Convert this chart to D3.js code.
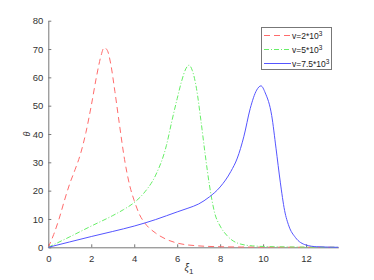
<!DOCTYPE html>
<html>
<head>
<meta charset="utf-8">
<script src="https://cdn.jsdelivr.net/npm/d3@7"></script>
<style>
  body { margin: 0; background: #fff; }
  svg { font-family: "Liberation Sans", Arial, sans-serif; }
</style>
</head>
<body>
<svg id="chart" width="374" height="280"></svg>
<script>
// values (xi_1 vs theta)
const redX   = [0, 0.25, 0.5, 0.75, 1, 1.25, 1.5, 1.75, 2, 2.25, 2.45, 2.6, 2.75, 2.9, 3.1, 3.3, 3.55, 3.8, 4, 4.25, 4.5, 5, 5.5, 6, 7, 8, 9, 13.5];
const redY   = [0, 4.5, 10, 16.5, 22.5, 27.5, 33, 40.5, 50, 60.5, 67.5, 70.5, 69.5, 65, 55, 44, 31, 21.5, 16.5, 11.5, 8.5, 5, 2.8, 1.5, 0.5, 0.2, 0.1, 0];
const greenX = [0, 1, 2, 3, 3.5, 4, 4.5, 5, 5.5, 5.75, 6, 6.2, 6.4, 6.55, 6.7, 6.9, 7.1, 7.3, 7.5, 7.75, 8, 8.3, 8.8, 9.5, 10.5, 13.5];
const greenY = [0, 3.7, 7.5, 11.2, 13.3, 15.8, 19.6, 25.5, 36, 44.5, 52.5, 58.5, 63, 64.3, 62.5, 56, 45, 33, 22, 12, 7.5, 4.3, 1.5, 0.5, 0.2, 0];
const blueX  = [0, 1, 2, 3, 4, 5, 6, 6.5, 7, 7.5, 8, 8.5, 8.8, 9.1, 9.4, 9.7, 9.9, 10.1, 10.4, 10.6, 10.8, 11, 11.2, 11.5, 12, 12.5, 13.5];
const blueY  = [0, 1.9, 3.8, 5.6, 7.5, 9.8, 12.5, 13.8, 15.3, 17.8, 21.3, 26.8, 31.5, 39, 49, 55.5, 57, 54.5, 46.5, 35, 23, 13, 7.5, 3.5, 0.8, 0.2, 0];
const xTicks = [0, 2, 4, 6, 8, 10, 12];
const yTicks = [0, 10, 20, 30, 40, 50, 60, 70, 80];

const series = [
  { name: "v=2*10", x: redX, y: redY, color: "#ff6b6b", dash: "6,4" },
  { name: "v=5*10", x: greenX, y: greenY, color: "#66ee66", dash: "5,2,1,2" },
  { name: "v=7.5*10", x: blueX, y: blueY, color: "#5555ff", dash: null }
];

const svg = d3.select("#chart");
const plotL = 48.3, plotR = 338.3, plotT = 20.7, plotB = 247.3;

const x = d3.scaleLinear().domain([0, 13.5]).range([plotL, plotR]);
const y = d3.scaleLinear().domain([0, 80]).range([plotB, plotT]);

// axes
const xAxis = svg.append("g")
  .attr("transform", `translate(0,${plotB})`)
  .call(d3.axisBottom(x).tickValues(xTicks).tickSize(-3).tickSizeOuter(0).tickPadding(8));
const yAxis = svg.append("g")
  .attr("transform", `translate(${plotL},0)`)
  .call(d3.axisLeft(y).tickValues(yTicks).tickSize(-3).tickSizeOuter(0).tickPadding(5));

[xAxis, yAxis].forEach(a => {
  a.select(".domain").attr("stroke", "#777").attr("stroke-width", 1);
  a.selectAll(".tick line").attr("stroke", "#777");
  a.selectAll(".tick text").attr("fill", "#333").attr("font-size", 9.5);
});

// curves
const line = d3.line().curve(d3.curveMonotoneX);
series.forEach(s => {
  const pts = s.x.map((v, i) => [x(v), y(s.y[i])]);
  svg.append("path")
    .attr("d", line(pts))
    .attr("fill", "none")
    .attr("stroke", s.color)
    .attr("stroke-width", 1)
    .attr("stroke-dasharray", s.dash);
});

// axis labels
svg.append("text")
  .attr("transform", "translate(30,134) rotate(-90)")
  .attr("text-anchor", "middle")
  .attr("font-size", 9)
  .attr("font-style", "italic")
  .attr("fill", "#333")
  .text("θ");
const xl = svg.append("text")
  .attr("x", 189).attr("y", 271)
  .attr("text-anchor", "middle")
  .attr("font-size", 10)
  .attr("font-style", "italic")
  .attr("fill", "#333");
xl.append("tspan").text("ξ");
xl.append("tspan").attr("dy", 3).attr("font-size", 8).attr("font-style", "normal").text("1");

// legend
const lg = svg.append("g");
lg.append("rect")
  .attr("x", 261.5).attr("y", 27.5).attr("width", 70).attr("height", 42)
  .attr("fill", "#fff").attr("stroke", "#777").attr("stroke-width", 1);
series.forEach((s, i) => {
  const ly = 35.5 + i * 14;
  lg.append("line")
    .attr("x1", 264).attr("x2", 291).attr("y1", ly).attr("y2", ly)
    .attr("stroke", s.color).attr("stroke-dasharray", s.dash);
  const t = lg.append("text")
    .attr("x", 292).attr("y", ly + 3.5)
    .attr("font-size", 8.5).attr("fill", "#222");
  t.append("tspan").text(s.name);
  t.append("tspan").attr("dy", -3.5).attr("font-size", 6.5).text("3");
});
</script>
</body>
</html>
